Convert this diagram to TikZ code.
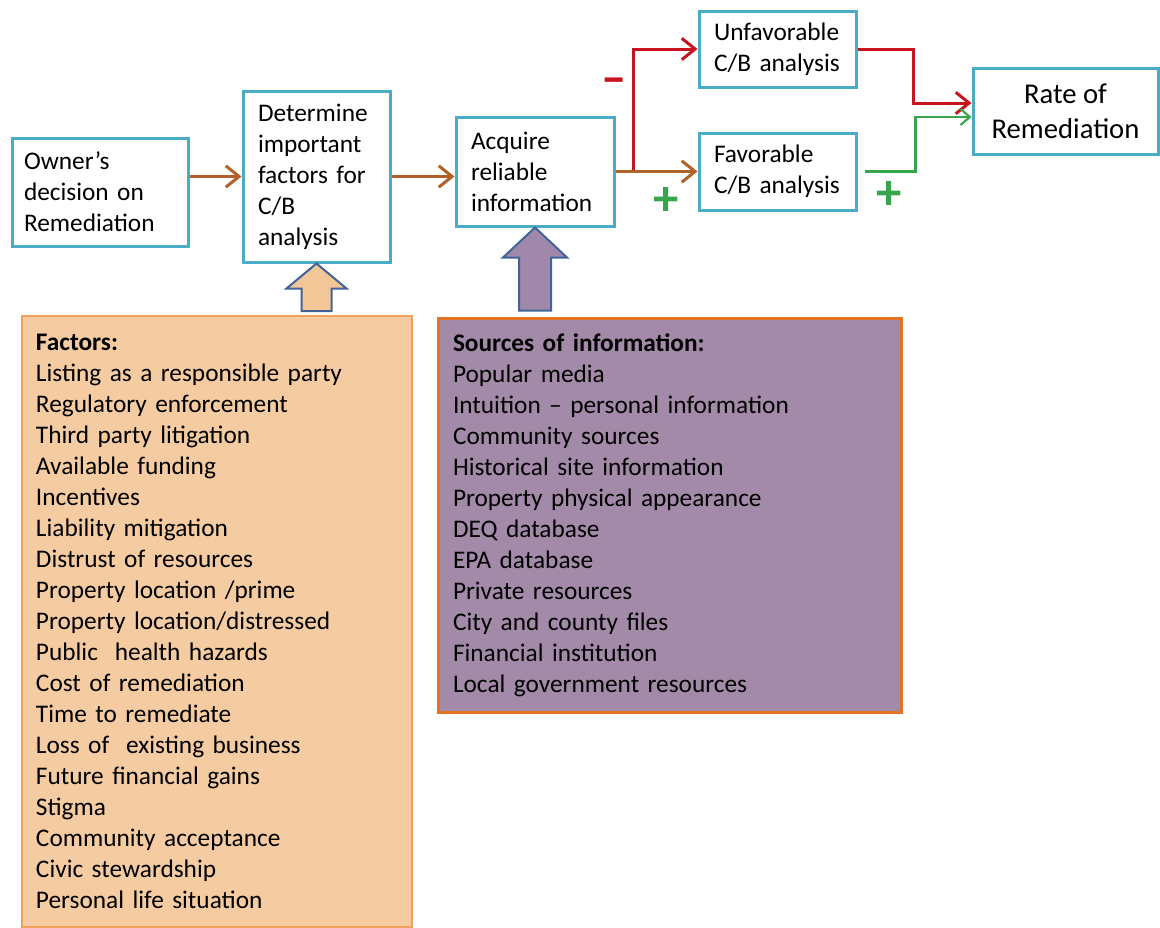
\documentclass[tikz,border=0pt]{standalone}
\usepackage{fontspec}
\setmainfont{Carlito}
\usepackage{xcolor}
\usetikzlibrary{arrows.meta,positioning,calc}

\definecolor{boxblue}{RGB}{75,172,198}
\definecolor{flowbrown}{RGB}{178,98,40}
\definecolor{negred}{RGB}{200,20,30}
\definecolor{posgreen}{RGB}{55,165,75}
\definecolor{factfill}{RGB}{245,204,162}
\definecolor{factdraw}{RGB}{240,160,90}
\definecolor{srcfill}{RGB}{163,138,168}
\definecolor{srcdraw}{RGB}{228,115,35}
\definecolor{arrdraw}{RGB}{65,100,150}
\definecolor{tanarrow}{RGB}{243,198,152}
\definecolor{purplearrow}{RGB}{160,136,170}

\begin{document}
\begin{tikzpicture}[
    x=0.75pt, y=-0.75pt,
    box/.style={rectangle, draw=boxblue, line width=2.25pt, fill=white,
                align=left, inner sep=0pt, font=\fontsize{19}{23.25}\selectfont},
    listbox/.style={rectangle, align=left, inner sep=0pt,
                font=\fontsize{19}{23.25}\selectfont},
    sign/.style={inner sep=0pt, font=\fontsize{38}{38}\selectfont\bfseries},
    arr/.style={-{Straight Barb[length=10pt,width=16pt]}, line width=2.25pt},
    blockarr/.style={draw=arrdraw, line width=1.5pt, line join=miter}
]
\useasboundingbox (0,0) rectangle (1160,928);

%% main flow
\node[box, minimum width=132pt, minimum height=81pt, text width=114pt]
    (owner) at (100,192) {Owner's\\decision on\\Remediation};
\node[box, minimum width=110.25pt, minimum height=128.25pt, text width=87.75pt]
    (det) at (316.5,176.5) {Determine\\important\\factors for\\C/B\\analysis};
\node[box, minimum width=118.5pt, minimum height=81.75pt, text width=96pt]
    (acq) at (535,171.5) {Acquire\\reliable\\information};
\node[box, minimum width=117.75pt, minimum height=57pt, text width=95.25pt]
    (unf) at (777.5,49) {Unfavorable\\C/B analysis};
\node[box, minimum width=117.75pt, minimum height=57.75pt, text width=95.25pt]
    (fav) at (777.5,171.5) {Favorable\\C/B analysis};
\node[box, minimum width=138.75pt, minimum height=64.5pt, align=center,
      font=\fontsize{21.5}{26.25}\selectfont]
    (rate) at (1065.5,111) {Rate of\\Remediation};

%% lists
\node[listbox, fill=factfill, draw=factdraw, line width=1.5pt,
      minimum width=292.5pt, minimum height=458.25pt, text width=271.5pt]
    (fac) at (217,621.5) {\textbf{Factors:}\\
    Listing as a responsible party\\
    Regulatory enforcement\\
    Third party litigation\\
    Available funding\\
    Incentives\\
    Liability mitigation\\
    Distrust of resources\\
    Property location /prime\\
    Property location/distressed\\
    Public\ \ health hazards\\
    Cost of remediation\\
    Time to remediate\\
    Loss of\ \ existing business\\
    Future financial gains\\
    Stigma\\
    Community acceptance\\
    Civic stewardship\\
    Personal life situation};
\node[listbox, fill=srcfill, draw=srcdraw, line width=2.25pt,
      minimum width=347.25pt, minimum height=295.5pt, text width=324.75pt]
    (src) at (669.5,515) {\textbf{Sources of information:}\\
    Popular media\\
    Intuition -- personal information\\
    Community sources\\
    Historical site information\\
    Property physical appearance\\
    DEQ database\\
    EPA database\\
    Private resources\\
    City and county files\\
    Financial institution\\
    Local government resources};

%% block arrows
\coordinate (tanbase) at ($(det.south |- fac.north)+(0,-4)$);
\draw[blockarr, fill=tanarrow] (det.south) -- ++(30,25) -- ++(-15,0)
    |- ($(tanbase)+(-15,0)$) -- ($(det.south)+(-15,25)$) -- ++(-15,0) -- cycle;
\coordinate (purbase) at ($(acq.south |- src.north)+(0,-6)$);
\draw[blockarr, fill=purplearrow] (acq.south) -- ++(32,30) -- ++(-16,0)
    |- ($(purbase)+(-16,0)$) -- ($(acq.south)+(-16,30)$) -- ++(-16,0) -- cycle;

%% connectors
\draw[arr, flowbrown] (det.west -| owner.east) -- (det.west);
\draw[arr, flowbrown] (det.east) -- (det.east -| acq.west);
\draw[arr, negred]    ($(acq.east)+(18,0)$) |- (unf.west);
\draw[arr, flowbrown] (acq) -- (fav);
\draw[arr, negred]    (unf.east) -| ($(rate.west)+(-58,-8)$) -- ($(rate.west)+(0,-8)$);
\draw[-{Straight Barb[length=7pt,width=12pt]}, line width=1.6pt, posgreen]
    ($(fav.east)+(7,0)$) -| ($(rate.west)+(-56,6)$) -- ($(rate.west)+(0,6)$);

%% signs
\node[sign, text=negred]   (minus) at (614,86)  {--};
\node[sign, text=posgreen] (plus1) at (666,201) {+};
\node[sign, text=posgreen] (plus2) at (889,195) {+};

\end{tikzpicture}
\end{document}
